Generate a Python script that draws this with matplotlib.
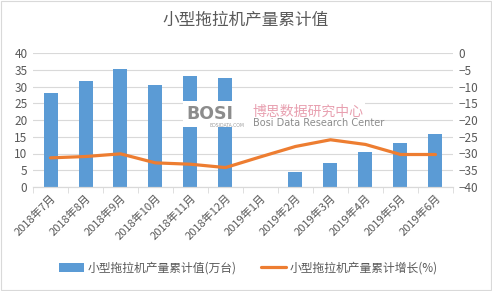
import numpy as np
import matplotlib.pyplot as plt

plt.rcParams['font.family'] = ['Noto Sans CJK SC', 'DejaVu Sans']

months = ['2018年7月', '2018年8月', '2018年9月', '2018年10月', '2018年11月', '2018年12月',
          '2019年1月', '2019年2月', '2019年3月', '2019年4月', '2019年5月', '2019年6月']
output_values = [28.0, 31.5, 35.2, 30.3, 33.2, 32.6, np.nan, 4.5, 7.3, 10.4, 13.0, 15.9]
growth_values = [-31.3, -30.9, -30.1, -32.8, -33.2, -34.2, -31.0, -27.9, -25.9, -27.3, -30.3, -30.3]

bar_label = '小型拖拉机产量累计值(万台)'
line_label = '小型拖拉机产量累计增长(%)'
title = '小型拖拉机产量累计值'

bar_color = '#5B9BD5'
line_color = '#ED7D31'
text_color = '#595959'

fig = plt.figure(figsize=(4.92, 2.91), dpi=100)
ax = fig.add_axes([33 / 492, 1 - 187 / 291, 420 / 492, 134 / 291])
ax2 = ax.twinx()

x = np.arange(len(months))
ax.bar(x, output_values, width=0.4, color=bar_color, label=bar_label, zorder=2)
ax2.plot(x, growth_values, color=line_color, linewidth=2.3, label=line_label,
         solid_capstyle='round', zorder=3)

ax.set_xlim(-0.5, len(months) - 0.5)
ax.set_ylim(0, 40)
ax.set_yticks(np.arange(0, 41, 5))
ax2.set_ylim(-40, 0)
ax2.set_yticks(np.arange(-40, 1, 5))

ax.grid(axis='y', color='#D9D9D9', linewidth=0.8, zorder=0)
ax.set_axisbelow(True)

for a in (ax, ax2):
    for side in ('top', 'left', 'right'):
        a.spines[side].set_visible(False)
    a.spines['bottom'].set_color('#D9D9D9')
    a.tick_params(axis='y', length=0, labelsize=8.5, labelcolor=text_color, pad=4)

ax.set_xticks(x)
ax.set_xticklabels(months, rotation=45, ha='right', rotation_mode='anchor',
                   fontsize=8, color=text_color)
ax.set_xticks(np.arange(-0.5, len(months), 1), minor=True)
ax.tick_params(axis='x', which='major', length=0, pad=4)
ax.tick_params(axis='x', which='minor', length=4, color='#D9D9D9')

# watermark with white backing box
fig.patches.append(plt.Rectangle((183 / 492, 1 - 127 / 291), 182 / 492, 26 / 291,
                                 transform=fig.transFigure, facecolor='white',
                                 edgecolor='none', zorder=1))
fig.text(186 / 492, 1 - 119 / 291, 'BOSI', fontsize=12.5, fontweight='bold',
         color='#8C8C8C', family='DejaVu Sans', zorder=4)
fig.text(210 / 492, 1 - 127 / 291, 'BOSIDATA.COM', fontsize=3.3, color='#9E9E9E',
         family='DejaVu Sans', zorder=4)
fig.text(252 / 492, 1 - 116 / 291, '博思数据研究中心', fontsize=10, color='#E8A0B0',
         zorder=4)
fig.text(253 / 492, 1 - 126 / 291, 'Bosi Data Research Center', fontsize=7,
         color='#8C8C8C', family='DejaVu Sans', zorder=4)

fig.suptitle(title, y=0.96, fontsize=12, color=text_color)

h1, l1 = ax.get_legend_handles_labels()
h2, l2 = ax2.get_legend_handles_labels()
fig.legend(h1 + h2, l1 + l2, loc='center', bbox_to_anchor=(0.505, 0.079), ncol=2,
           frameon=False, fontsize=8.5, labelcolor=text_color, handlelength=2.1,
           columnspacing=2.1, handletextpad=0.3)

fig.patches.append(plt.Rectangle((0.002, 0.003), 0.995, 0.993, transform=fig.transFigure,
                                 fill=False, edgecolor='#D9D9D9', linewidth=0.8))

fig.savefig('out.png', dpi=100)
